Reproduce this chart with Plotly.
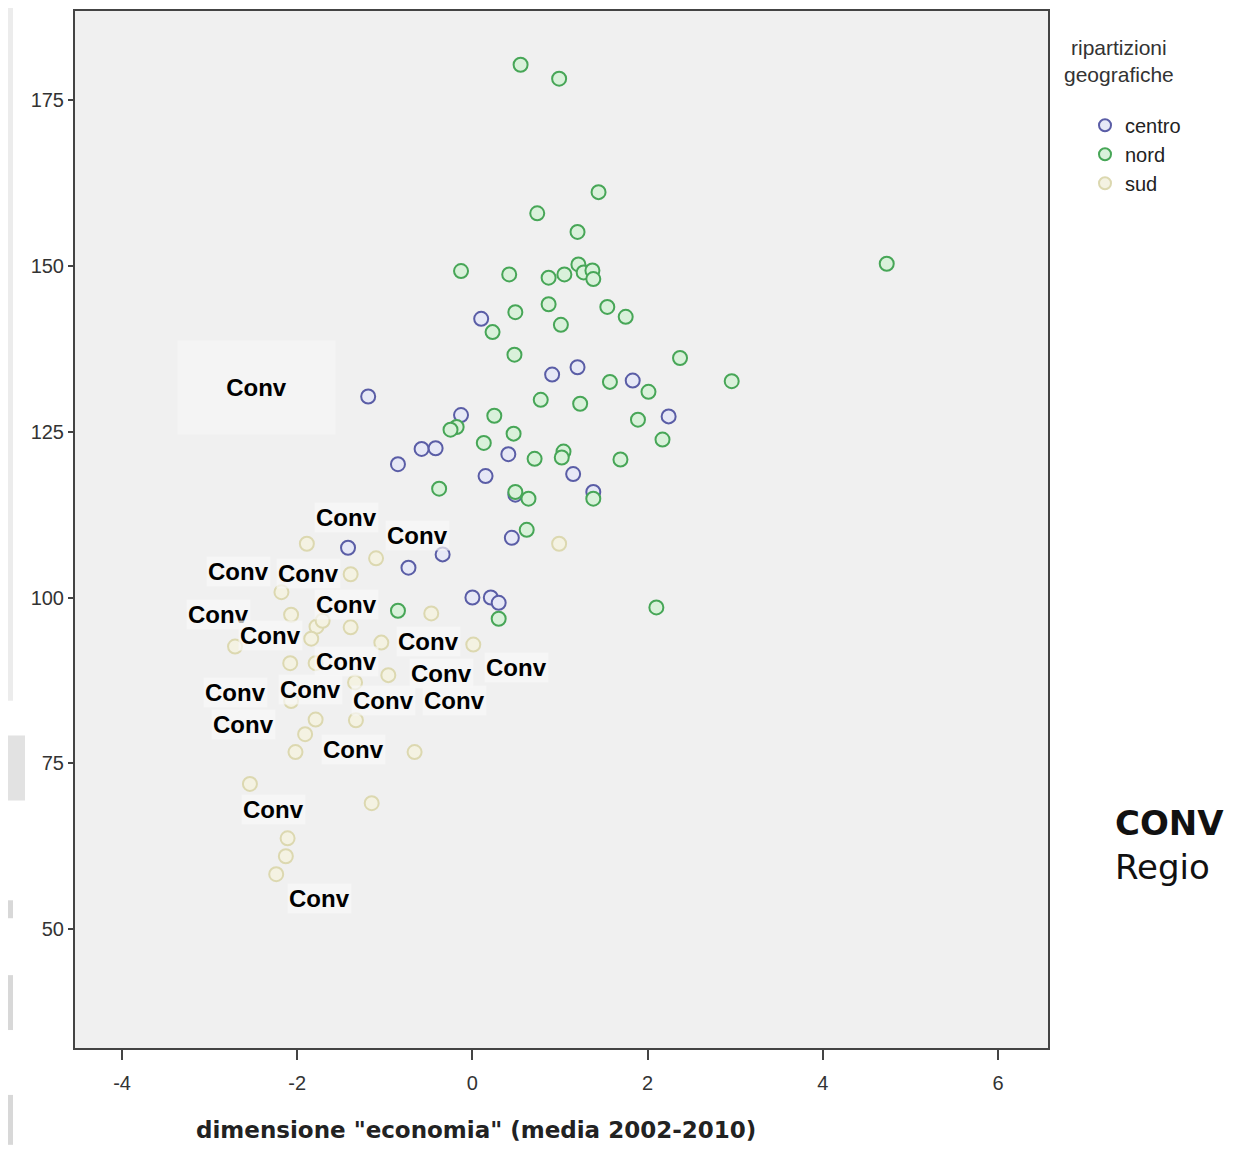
import plotly.graph_objects as go

# ---- data ----
centro_x = [0.10, 0.91, 1.20, 1.83, 2.24, -0.13, 0.41, 1.15, 0.15, -0.58, -0.42, -0.85,
            0.49, 1.38, 0.45, -1.19, -1.42, -0.34, -0.73, 0.00, 0.21, 0.30]
centro_y = [142.0, 133.6, 134.7, 132.7, 127.3, 127.5, 121.6, 118.6, 118.3, 122.4, 122.5, 120.1,
            115.5, 115.9, 109.0, 130.3, 107.5, 106.5, 104.5, 100.0, 100.0, 99.2]

nord_x = [0.55, 0.99, 1.44, 0.74, 1.20, 4.73, -0.13, 0.42, 0.87, 1.05, 1.21, 1.27, 1.37, 1.38,
          0.49, 0.87, 1.54, 1.75, 1.01, 0.23, 0.48, 2.37, 2.96, 1.57, 2.01, 0.78, 1.23, 1.89,
          0.25, 2.17, 0.13, 0.47, -0.18, -0.25, 0.71, 1.04, 1.02, 1.69, -0.38, 0.49, 0.64,
          1.38, 0.62, -0.85, 0.30, 2.10]
nord_y = [180.3, 178.2, 161.1, 157.9, 155.1, 150.3, 149.2, 148.7, 148.2, 148.7, 150.2, 149.0, 149.3, 148.0,
          143.0, 144.2, 143.8, 142.3, 141.1, 140.0, 136.6, 136.1, 132.6, 132.5, 131.0, 129.8, 129.2, 126.8,
          127.4, 123.8, 123.3, 124.7, 125.7, 125.3, 120.9, 122.0, 121.1, 120.8, 116.4, 115.9, 114.9,
          114.9, 110.2, 98.0, 96.8, 98.5]

sud_x = [0.99, -1.89, -1.10, -1.39, -2.18, -2.07, -1.78, -1.71, -1.39, -0.47, -2.71, -1.84,
         -1.04, 0.01, -2.08, -1.79, -0.96, -1.34, -2.07, -1.79, -1.33, -1.91, -2.02, -0.66,
         -2.54, -1.15, -2.11, -2.13, -2.24]
sud_y = [108.1, 108.1, 105.9, 103.5, 100.8, 97.4, 95.6, 96.5, 95.5, 97.6, 92.6, 93.8,
         93.2, 92.9, 90.1, 90.1, 88.3, 87.2, 84.4, 81.6, 81.5, 79.4, 76.7, 76.7,
         71.9, 69.0, 63.7, 61.0, 58.3]

label_x = [-2.47, -1.44, -0.63, -2.67, -1.87, -2.90, -1.44, -2.31, -0.50, -1.44,
           0.50, -0.35, -2.71, -1.85, -1.02, -0.21, -2.61, -1.36, -2.27, -1.75]
label_y = [131.7, 112.0, 109.3, 103.9, 103.6, 97.4, 98.9, 94.3, 93.4, 90.4,
           89.5, 88.6, 85.7, 86.2, 84.5, 84.5, 80.9, 77.1, 68.0, 54.7]
label_text = "Conv"

x_ticks = [-4, -2, 0, 2, 4, 6]
x_ticktext = ["-4", "-2", "0", "2", "4", "6"]
y_ticks = [50, 75, 100, 125, 150, 175]

groups = [
    ("centro", centro_x, centro_y, "#5a5da6", "#e6e8f6"),
    ("nord", nord_x, nord_y, "#47a657", "#d9f1da"),
    ("sud", sud_x, sud_y, "#dcd8b0", "#f4f2e2"),
]

fig = go.Figure()
for name, xs, ys, line_c, fill_c in groups:
    fig.add_trace(go.Scatter(
        x=xs, y=ys, mode="markers", name=name,
        marker=dict(symbol="circle", size=14, color=fill_c,
                    line=dict(color=line_c, width=2)),
    ))

# plot-area geometry in reference page pixels (page body adds an 8px margin)
OFF = 8
L, R, T, B = 75, 1048, 9, 1048
PW, PH = 1233, 1157
W, H = PW - OFF, PH - OFF

def px(xp):
    return (xp - L) / (R - L)

def py(yp):
    return (B - yp) / (B - T)

lab_font = dict(family="Liberation Sans, Arial", size=24, color="#000")
annotations = []
for i, (lx, ly) in enumerate(zip(label_x, label_y)):
    if i == 0:
        annotations.append(dict(x=lx, y=ly, xref="x", yref="y", text="<b>%s</b>" % label_text,
                                showarrow=False, font=lab_font,
                                bgcolor="#f4f4f4", width=155, height=91, align="center"))
    else:
        annotations.append(dict(x=lx, y=ly, xref="x", yref="y", text="<b>%s</b>" % label_text,
                                showarrow=False, font=lab_font,
                                bgcolor="rgba(248,248,248,0.7)", borderpad=1))

annotations.append(dict(x=px(476), y=py(1130), xref="paper", yref="paper",
                        text='<b>dimensione "economia" (media 2002-2010)</b>',
                        showarrow=False, xanchor="center", yanchor="middle",
                        font=dict(family="DejaVu Sans", size=23, color="#222")))
annotations.append(dict(x=px(1119), y=py(59), xref="paper", yref="paper",
                        text="ripartizioni<br>geografiche", showarrow=False,
                        xanchor="center", yanchor="middle", align="center",
                        font=dict(family="Liberation Sans, Arial", size=21, color="#333")))
annotations.append(dict(x=px(1113), y=py(845), xref="paper", yref="paper",
                        text="<b>CONV</b><br>Regio", showarrow=False,
                        xanchor="left", yanchor="middle", align="left",
                        font=dict(family="DejaVu Sans", size=34, color="#111")))

shapes = [
    dict(type="rect", xref="paper", yref="paper", x0=px(OFF), x1=px(13), y0=py(0), y1=py(700),
         fillcolor="#ececec", line=dict(width=0), layer="below"),
    dict(type="rect", xref="paper", yref="paper", x0=px(OFF), x1=px(25), y0=py(735), y1=py(800),
         fillcolor="#e2e2e2", line=dict(width=0), layer="below"),
    dict(type="rect", xref="paper", yref="paper", x0=px(OFF), x1=px(13), y0=py(900), y1=py(918),
         fillcolor="#d8d8d8", line=dict(width=0), layer="below"),
    dict(type="rect", xref="paper", yref="paper", x0=px(OFF), x1=px(13), y0=py(975), y1=py(1030),
         fillcolor="#d8d8d8", line=dict(width=0), layer="below"),
    dict(type="rect", xref="paper", yref="paper", x0=px(OFF), x1=px(13), y0=py(1095), y1=py(1145),
         fillcolor="#d8d8d8", line=dict(width=0), layer="below"),
]

fig.update_layout(
    width=W, height=H,
    margin=dict(l=L - OFF, r=PW - R, t=T - OFF, b=PH - B),
    paper_bgcolor="white",
    plot_bgcolor="#f0f0f0",
    showlegend=True,
    legend=dict(x=px(1085), y=py(104), xanchor="left", yanchor="top",
                font=dict(family="Liberation Sans, Arial", size=20, color="#222"),
                bgcolor="rgba(0,0,0,0)", itemsizing="constant"),
    annotations=annotations,
    shapes=shapes,
    font=dict(family="Liberation Sans, Arial"),
)
fig.update_xaxes(range=[-4.537, 6.571], tickvals=x_ticks, ticktext=x_ticktext,
                 ticks="outside", ticklen=10, tickwidth=2, tickcolor="#444",
                 ticklabelstandoff=6, showgrid=False, zeroline=False,
                 showline=True, linecolor="#444", linewidth=2, mirror=True,
                 tickfont=dict(size=20, color="#333"))
fig.update_yaxes(range=[32.1, 188.4], tickvals=y_ticks, ticks="outside", ticklen=5,
                 tickwidth=2, tickcolor="#444", showgrid=False, zeroline=False,
                 showline=True, linecolor="#444", linewidth=2, mirror=True,
                 tickfont=dict(size=20, color="#333"))

fig.write_html("out.html")
